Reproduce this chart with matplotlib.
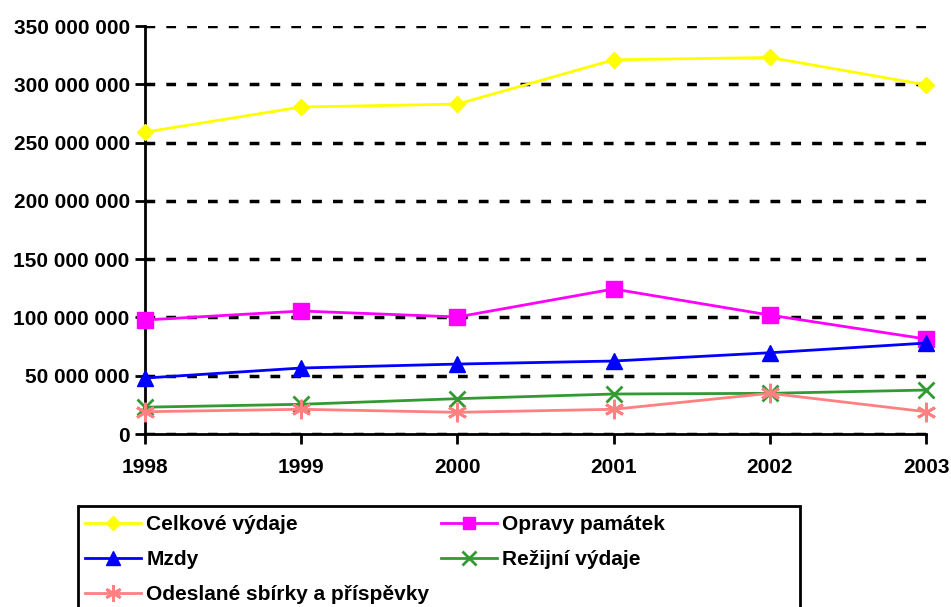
import matplotlib
matplotlib.use('Agg')
import matplotlib.pyplot as plt
from matplotlib.patches import Rectangle
from matplotlib.ticker import FuncFormatter, MultipleLocator

years = [1998, 1999, 2000, 2001, 2002, 2003]
celkove = [259e6, 280.5e6, 283e6, 321e6, 323e6, 299.5e6]
opravy = [97.8e6, 105.5e6, 100.4e6, 124.4e6, 102e6, 81.5e6]
mzdy = [48e6, 56.6e6, 60e6, 62.6e6, 69.7e6, 78e6]
rezijni = [23e6, 25.5e6, 30.3e6, 34.3e6, 34.9e6, 37.7e6]
odeslane = [19.1e6, 21.2e6, 18.6e6, 21.2e6, 34.9e6, 19.1e6]

plt.rcParams['font.family'] = ['Liberation Sans', 'DejaVu Sans']
plt.rcParams['font.weight'] = 'bold'

W, H = 951, 607
fig = plt.figure(figsize=(W / 100, H / 100), dpi=100)
ax = fig.add_axes([145 / W, 1 - 434 / H, 781 / W, 408 / H])

h1, = ax.plot(years, celkove, color='#FFFF00', marker='D', markersize=8, lw=2, label='Celkové výdaje', clip_on=False, zorder=5)
h2, = ax.plot(years, opravy, color='#FF00FF', marker='s', markersize=11, lw=2, label='Opravy památek', clip_on=False, zorder=5)
h3, = ax.plot(years, mzdy, color='#0000FF', marker='^', markersize=12, lw=2, label='Mzdy', clip_on=False, zorder=5)
h4, = ax.plot(years, rezijni, color='#339933', marker='x', markersize=12, mew=2, lw=2, label='Režijní výdaje', clip_on=False, zorder=5)
h5, = ax.plot(years, odeslane, color='#FF8080', marker=(6, 2, 0), markersize=14, mew=2, lw=2, label='Odeslané sbírky a příspěvky', clip_on=False, zorder=5)

ax.set_xlim(years[0], years[-1])
ax.set_ylim(0, 350e6)
ax.set_xticks(years)
ax.yaxis.set_major_locator(MultipleLocator(50e6))
ax.yaxis.set_major_formatter(FuncFormatter(lambda v, p: f"{int(v):,}".replace(",", " ")))
ax.grid(axis='y', color='black', linestyle=(0, (2.8, 3.2)), linewidth=2.5)
ax.set_axisbelow(True)

for s in ['top', 'right']:
    ax.spines[s].set_visible(False)
for s in ['left', 'bottom']:
    ax.spines[s].set_linewidth(2)
ax.tick_params(width=2, length=7, labelsize=15, pad=4)
ax.tick_params(axis='x', pad=10)
for lab in ax.get_xticklabels() + ax.get_yticklabels():
    lab.set_fontweight('bold')

# legend box runs off the bottom edge like in the original
fig.patches.append(Rectangle((78 / W, -0.05), 722 / W, 1 - 506 / H + 0.05,
                             transform=fig.transFigure, fill=False,
                             edgecolor='black', linewidth=2))

hs = [h1, h3, h5, h2, h4]
leg = fig.legend(hs, [h.get_label() for h in hs],
                 ncol=2, loc='upper left', bbox_to_anchor=(85 / W, 1 - 515 / H),
                 frameon=False, fontsize=15, handlelength=2.7, handletextpad=0.25,
                 columnspacing=0.55, labelspacing=0.78, borderaxespad=0,
                 borderpad=0, markerscale=0.85)
for t in leg.get_texts():
    t.set_fontweight('bold')

fig.savefig('out.png', dpi=100)
